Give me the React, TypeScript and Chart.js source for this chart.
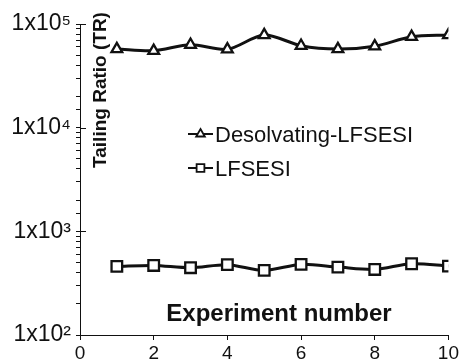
import React, { useEffect, useRef } from 'react';
import { Chart, registerables } from 'chart.js';

Chart.register(...registerables);

// ---- data ----
const experiments = [1, 2, 3, 4, 5, 6, 7, 8, 9, 10];
const desolvatingTR = [57300, 55200, 63100, 57000, 78300, 61700, 57300, 61000, 75300, 78300];
const lfsesiTR = [459, 469, 446, 477, 420, 480, 452, 429, 487, 462];
const seriesNames = ['Desolvating-LFSESI', 'LFSESI'];
const xTickValues = [0, 2, 4, 6, 8, 10];
const yDecades = [1000, 10000, 100000];
const xTitle = 'Experiment number';
const yTitle = 'Tailing Ratio (TR)';

const INK = '#111111';
const FONT = '"Liberation Sans", Arial, Helvetica, sans-serif';
const SUP: Record<string, string> = {
  '0': '\u2070', '1': '\u00B9', '2': '\u00B2', '3': '\u00B3', '4': '\u2074',
  '5': '\u2075', '6': '\u2076', '7': '\u2077', '8': '\u2078', '9': '\u2079',
};

function drawMarker(ctx: CanvasRenderingContext2D, style: string, x: number, y: number, r: number) {
  ctx.beginPath();
  if (style === 'triangle') {
    const h = r * 1.5;
    const w = r * Math.sqrt(3);
    ctx.moveTo(x, y - r);
    ctx.lineTo(x + w / 2, y - r + h);
    ctx.lineTo(x - w / 2, y - r + h);
    ctx.closePath();
  } else {
    const s = r * Math.SQRT1_2;
    ctx.rect(x - s, y - s, 2 * s, 2 * s);
  }
  ctx.fillStyle = '#ffffff';
  ctx.fill();
  ctx.stroke();
}

const overlayPlugin = {
  id: 'overlay',
  afterDraw(chart: any) {
    const ctx: CanvasRenderingContext2D = chart.ctx;
    const area = chart.chartArea;
    const yScale = chart.scales.y;
    ctx.save();
    // inward major ticks on the y axis
    ctx.strokeStyle = INK;
    ctx.lineWidth = 1;
    yDecades.forEach((v) => {
      const py = Math.round(yScale.getPixelForValue(v)) + 0.5;
      ctx.beginPath();
      ctx.moveTo(area.left, py);
      ctx.lineTo(area.left + 6, py);
      ctx.stroke();
    });
    ctx.fillStyle = INK;
    // x title (inside plot)
    ctx.font = `bold 24px ${FONT}`;
    ctx.textAlign = 'center';
    ctx.textBaseline = 'alphabetic';
    ctx.fillText(xTitle, area.left + 199, area.bottom - 14);
    // y title (rotated, inside plot)
    ctx.save();
    ctx.translate(area.left + 26, area.top + 66);
    ctx.rotate(-Math.PI / 2);
    ctx.font = `bold 19px ${FONT}`;
    ctx.textAlign = 'center';
    ctx.textBaseline = 'alphabetic';
    ctx.fillText(yTitle, 0, 0);
    ctx.restore();
    // legend
    const styles = ['triangle', 'rect'];
    const rowsY = [area.top + 110, area.top + 144];
    const lx0 = area.left + 108;
    const lx1 = area.left + 133;
    ctx.font = `22px ${FONT}`;
    ctx.textAlign = 'left';
    ctx.textBaseline = 'alphabetic';
    seriesNames.forEach((name, i) => {
      const y = rowsY[i];
      ctx.strokeStyle = INK;
      ctx.lineWidth = 2;
      ctx.beginPath();
      ctx.moveTo(lx0, y);
      ctx.lineTo(lx1, y);
      ctx.stroke();
      ctx.lineWidth = 1.8;
      drawMarker(ctx, styles[i], (lx0 + lx1) / 2, y, styles[i] === 'triangle' ? 5 : 5.5);
      ctx.fillStyle = INK;
      ctx.fillText(name, lx1 + 2, y + 8);
    });
    ctx.restore();
  },
};

export default function App() {
  const ref = useRef<HTMLCanvasElement | null>(null);

  useEffect(() => {
    document.body.style.margin = '0';
    const canvas = ref.current;
    if (!canvas) return;
    const lineDs = (label: string, values: number[], style: string, r: number) => ({
      label,
      data: experiments.map((x, i) => ({ x, y: values[i] })),
      borderColor: INK,
      borderWidth: 3,
      tension: 0.3,
      pointStyle: style,
      pointRadius: r,
      pointBorderWidth: 2.3,
      pointBorderColor: INK,
      pointBackgroundColor: '#ffffff',
      fill: false,
    });
    const chart = new Chart(canvas, {
      type: 'line',
      data: {
        datasets: [
          lineDs(seriesNames[0], desolvatingTR, 'triangle', 6.2),
          lineDs(seriesNames[1], lfsesiTR, 'rect', 7.5),
        ],
      },
      options: {
        responsive: false,
        animation: false,
        devicePixelRatio: 1,
        layout: { padding: { left: 0, top: 24, right: 12, bottom: 0 } },
        plugins: {
          legend: { display: false },
          tooltip: { enabled: false },
          title: { display: false },
        },
        scales: {
          x: {
            type: 'linear',
            min: 0,
            max: 10,
            afterBuildTicks: (scale: any) => {
              scale.ticks = xTickValues.map((v) => ({ value: v }));
            },
            afterFit: (scale: any) => {
              scale.height = 25;
            },
            border: { display: true, color: INK, width: 1 },
            grid: { drawOnChartArea: false, drawTicks: true, tickLength: 5, color: INK },
            ticks: {
              color: INK,
              font: { family: FONT, size: 19 },
              padding: 2,
              maxRotation: 0,
              autoSkip: false,
            },
          },
          y: {
            type: 'logarithmic',
            min: 100,
            max: 100000,
            afterFit: (scale: any) => {
              scale.width = 80;
            },
            border: { display: true, color: INK, width: 1 },
            grid: { drawOnChartArea: false, drawTicks: true, tickLength: 4, color: INK },
            ticks: {
              color: INK,
              font: { family: FONT, size: 23 },
              padding: 5,
              autoSkip: false,
              callback: (value: any) => {
                const v = Number(value);
                const e = Math.log10(v);
                const re = Math.round(e);
                if (Math.abs(e - re) < 1e-9) {
                  return '1x10' + String(re).split('').map((c) => SUP[c] || c).join('');
                }
                return '';
              },
            },
          },
        },
      },
      plugins: [overlayPlugin],
    } as any);
    return () => chart.destroy();
  }, []);

  return (
    <div style={{ width: 461, height: 360 }}>
      <canvas ref={ref} width={461} height={360} style={{ display: 'block' }} />
    </div>
  );
}
